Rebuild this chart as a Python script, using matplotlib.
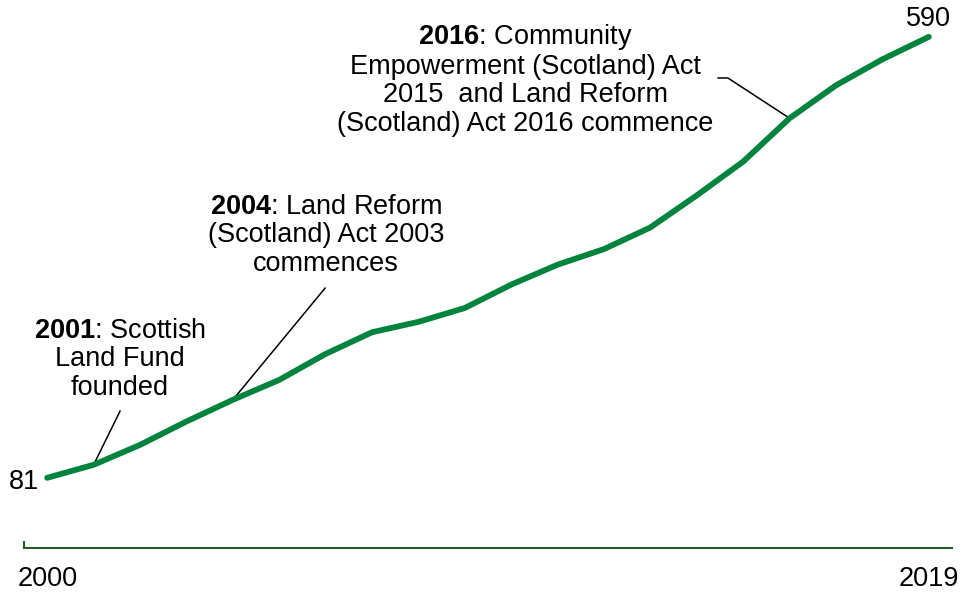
import matplotlib
matplotlib.use("Agg")
import matplotlib.pyplot as plt

plt.rcParams["font.family"] = ["Liberation Sans", "DejaVu Sans"]
plt.rcParams["mathtext.fontset"] = "custom"
plt.rcParams["mathtext.rm"] = "Liberation Sans"
plt.rcParams["mathtext.bf"] = "Liberation Sans:bold"

# Community-owned assets per year
years = list(range(2000, 2020))
counts = [81, 96, 119, 146, 171, 194, 224, 249, 261, 277,
          304, 327, 345, 370, 407, 446, 496, 534, 564, 590]

notes = [
    (2001, r"$\mathbf{2001}$: Scottish" + "\nLand Fund\nfounded"),
    (2004, r"$\mathbf{2004}$: Land Reform" + "\n(Scotland) Act 2003\ncommences"),
    (2016, r"$\mathbf{2016}$: Community" + "\nEmpowerment (Scotland) Act\n2015  and Land Reform\n(Scotland) Act 2016 commence"),
]

GREEN = "#00843d"
AXIS_GREEN = "#285e24"
FS = 19.5

fig = plt.figure(figsize=(9.62, 5.94), dpi=100)
ax = fig.add_axes([24 / 962, 46 / 594, 928 / 962, 548 / 594])
ax.set_xlim(1999.5, 2019.5)
ax.set_ylim(0, 632.5)

ax.plot(years, counts, color=GREEN, lw=4.2, solid_capstyle="round", zorder=3)

for s in ("top", "right", "left"):
    ax.spines[s].set_visible(False)
ax.spines["bottom"].set_color(AXIS_GREEN)
ax.spines["bottom"].set_linewidth(1.5)
ax.set_yticks([])
ax.set_xticks([years[0], years[-1]], [str(years[0]), str(years[-1])])
ax.tick_params(axis="x", length=0, pad=13, labelsize=FS)
ax.set_xticks([1999.5], minor=True)
ax.tick_params(axis="x", which="minor", direction="in", length=5,
               width=1.5, color=AXIS_GREEN)

# end-point values
ax.text(1999.82, 76, str(counts[0]), ha="right", va="center", fontsize=FS)
ax.text(years[-1], 610, str(counts[-1]), ha="center", va="center", fontsize=FS)

def val(year):
    return counts[years.index(year)]

# leader lines and captions
text_pos = {2001: (2001.57, 218), 2004: (2006.01, 361), 2016: (2010.30, 541)}
leader_end = {2001: (2001.57, 158), 2004: (2005.99, 300)}
for year, label in notes:
    tx, ty = text_pos[year]
    ax.text(tx, ty, label, ha="center", va="center", multialignment="center",
            fontsize=FS, linespacing=1.12)
    if year in leader_end:
        ex, ey = leader_end[year]
        ax.plot([year, ex], [val(year), ey], color="black", lw=1.1, zorder=2)
    else:
        ax.plot([year, 2014.67, 2014.46], [val(year), 542.5, 542.5],
                color="black", lw=1.1, zorder=2)

fig.savefig("out.png", dpi=100)
